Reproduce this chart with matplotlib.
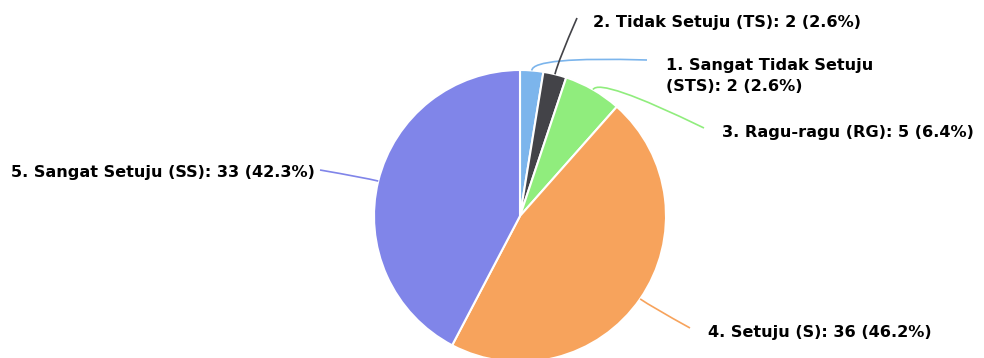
import numpy as np
import matplotlib
matplotlib.use("Agg")
import matplotlib.pyplot as plt
from matplotlib.path import Path
from matplotlib.patches import PathPatch

labels = ["1. Sangat Tidak Setuju\n(STS)", "2. Tidak Setuju (TS)", "3. Ragu-ragu (RG)",
          "4. Setuju (S)", "5. Sangat Setuju (SS)"]
values = [2, 2, 5, 36, 33]
colors = ["#7cb5ec", "#434348", "#90ed7d", "#f7a35c", "#8085e9"]

W, H = 984, 358
fig = plt.figure(figsize=(W / 100, H / 100), dpi=100)
ax = fig.add_axes([0, 0, 1, 1])

cx, cy, R = 520, H - 216, 146
ax.pie(values, colors=colors, startangle=90, counterclock=False,
       center=(cx, cy), radius=R, frame=True,
       wedgeprops=dict(edgecolor="white", linewidth=1.5))
ax.set_xlim(0, W)
ax.set_ylim(0, H)
ax.set_aspect("equal")
ax.axis("off")

total = sum(values)
# label anchor (pixel coords, y down): text x, text y, ha, connector end x, y
layout = [
    (666, 76, "left", 647, 60),
    (593, 22, "left", 577, 18),
    (722, 133, "left", 704, 128),
    (708, 332, "left", 690, 328),
    (315, 172, "right", 320, 170),
]
cum = 0
for v, lab, col, (tx, ty, ha, ex, ey) in zip(values, labels, colors, layout):
    mid = (cum + v / 2) / total * 2 * np.pi
    cum += v
    sx = cx + R * np.sin(mid)
    sy = cy + R * np.cos(mid)
    c1x = cx + (R + 14) * np.sin(mid)
    c1y = cy + (R + 14) * np.cos(mid)
    eyd = H - ey
    path = Path([(sx, sy), (c1x, c1y), (ex, eyd)], [Path.MOVETO, Path.CURVE3, Path.CURVE3])
    ax.add_patch(PathPatch(path, fill=False, edgecolor=col, lw=1.2))
    pct = v / total * 100
    text = f"{lab}: {v} ({pct:.1f}%)"
    ax.text(tx, H - ty, text, ha=ha, va="center", fontsize=11.6, fontweight="bold",
            color="black", linespacing=1.45, family="DejaVu Sans")

fig.savefig("out.png", dpi=100)
